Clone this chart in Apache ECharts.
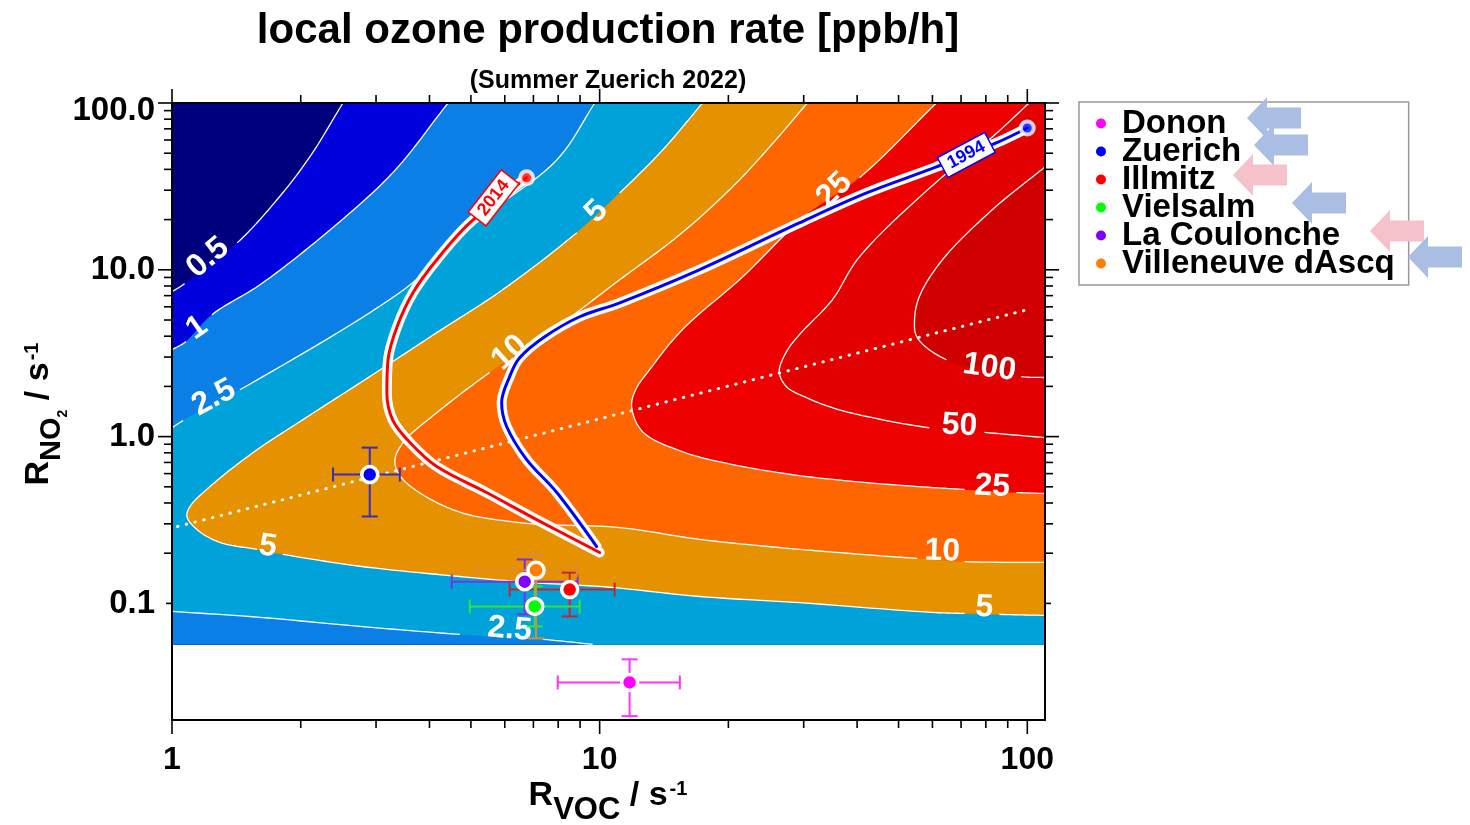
<!DOCTYPE html>
<html>
<head>
<meta charset="utf-8">
<title>local ozone production rate</title>
<script src="https://cdn.jsdelivr.net/npm/echarts@6.0.0/dist/echarts.min.js"></script>
<style>
html, body { margin: 0; padding: 0; background: #ffffff; }
#chart { width: 1470px; height: 825px; }
</style>
</head>
<body>
<div id="chart"></div>
<script>
// ================= DATA =================
// axis ticks
const xTickValues = [1, 10, 100];
const xTickLabels = ['1', '10', '100'];
const xMinorValues = [2, 3, 4, 5, 6, 7, 8, 9, 20, 30, 40, 50, 60, 70, 80, 90];
const yTickValues = [0.1, 1, 10, 100];
const yTickLabels = ['0.1', '1.0', '10.0', '100.0'];
const yMinorValues = [0.2, 0.3, 0.4, 0.5, 0.6, 0.7, 0.8, 0.9, 2, 3, 4, 5, 6, 7, 8, 9, 20, 30, 40, 50, 60, 70, 80, 90];

// contour levels of the local ozone production rate [ppb/h]
const levelValues = [0.5, 1, 2.5, 5, 10, 25, 50, 100];
// contour lines as [R_VOC, R_NO2]; null marks the gap left for the inline label
const contour05 = [[1, 7.39], [1.07, 8.25], null, [1.42, 14.5], [1.76, 26.3], [2.10, 47.5], [2.51, 100]];
const contour1 = [[1, 3.32], [1.078, 3.71], null, [1.240, 5.38], [1.605, 8.13], [2.30, 16.7], [3.28, 38.1], [4.42, 100]];
const contour25Upper = [[1, 1.13], [1.061, 1.247], null, [1.442, 1.91], [2.90, 5.53], [3.80, 9.08], [4.97, 18.1], [7.94, 45.6], [9.74, 100]];
const contour25Lower = [[1, 0.0896], [1.605, 0.0825], [2.75, 0.0728], [4.71, 0.0652], null, [7.36, 0.0609], [9.63, 0.0568]];
const contour5 = [[17.4, 100], [14.04, 52.3], [11.14, 28.9], null, [8.84, 16.7], [5.93, 7.59], [4.16, 4.20], [2.90, 2.29],
  [2.02, 1.26], [1.547, 0.802], [1.227, 0.502], [1.102, 0.381], [1.084, 0.332], [1.144, 0.277], [1.295, 0.232], [1.580, 0.211], null,
  [1.817, 0.197], [2.75, 0.167], [4.71, 0.145], [6.75, 0.134], [10.55, 0.125], [17.13, 0.110], [29.34, 0.101], [60.0, 0.0883],
  [71.3, 0.0871], null, [86.0, 0.0859], [110, 0.0848]];
const contour10 = [[30.6, 100], [25.2, 56.0], [20.67, 32.3], [15.38, 16.2], [11.14, 8.71], [7.24, 3.81], null, [5.53, 2.42],
  [4.16, 1.39], [3.47, 0.921], [3.32, 0.708], [3.47, 0.553], [4.53, 0.365], [6.50, 0.305], [11.14, 0.285], [17.13, 0.242],
  [29.34, 0.211], [55.3, 0.186], null, [71.3, 0.178], [110, 0.176]];
const contour25 = [[61.3, 100], [40.5, 35.6], null, [30.1, 20.8], [21.6, 9.08], [15.6, 4.37], [13.09, 2.52], [12.14, 1.91],
  [11.88, 1.51], [12.6, 1.07], [15.6, 0.813], [20.45, 0.680], [29.3, 0.584], [42.1, 0.530], [60.0, 0.495], [71.3, 0.482], null,
  [94.3, 0.462], [110, 0.456]];
const contour50 = [[101, 100], [82.8, 62.6], [63.3, 36.1], [40.5, 11.96], [35.0, 6.61], [29.3, 4.08], [27.35, 3.23], [26.3, 2.45],
  [27.35, 1.99], [30.5, 1.71], [35.0, 1.49], [42.1, 1.32], [59.0, 1.13], null, [79.4, 1.06], [110, 0.986]];
const contour100 = [[110, 41.4], [82.8, 22.9], [63.3, 11.48], [55.9, 6.89], [54.5, 5.02], [55.3, 3.92], [64.7, 2.89], null,
  [96.8, 2.29], [110, 2.26]];
const modelLowerLimit = 0.0568; // lowest R_NO2 of the model grid

// inline contour labels
const contourLabelText = ['0.5', '1', '2.5', '5', '10', '25', '5', '2.5', '100', '50', '25', '10', '5'];
const contourLabelAt = [[1.214, 11.8], [1.144, 4.49], [1.253, 1.71], [9.84, 22.3], [6.16, 3.18], [35.4, 30.1],
  [1.676, 0.2195], [6.16, 0.0699], [81.5, 2.59], [69.4, 1.164], [82.8, 0.502], [63.3, 0.205], [79.4, 0.0947]];

// ridge line (transition NOx / VOC limited)
const ridgeLine = [[1.03, 0.289], [100, 5.76]];

// Zuerich trajectories
const trajectoryNames = ['2014', '1994'];
const path2014 = [[6.75, 35.6], [4.97, 19.1], [4.16, 11.48], [3.66, 7.28], [3.36, 4.56], [3.20, 2.89], [3.18, 1.83],
  [3.28, 1.26], [3.60, 0.921], [4.16, 0.661], [5.44, 0.462], [7.12, 0.318], [10.0, 0.202]];
const path1994 = [[100, 70.8], [84.6, 57.6], [61.3, 41.4], [42.1, 28.9], [29.3, 19.1], [17.1, 10.0], [11.14, 6.34],
  [8.98, 5.23], [7.44, 3.97], [6.50, 2.97], [6.16, 2.29], [5.90, 1.60], [6.06, 1.15], [6.75, 0.728], [7.94, 0.462], [9.84, 0.219]];
const trajectoryLabelAt = [[5.65, 27.0], [72.0, 48.8]];

// measurement sites
const siteNames = ['Donon', 'Zuerich', 'Illmitz', 'Vielsalm', 'La Coulonche', 'Villeneuve dAscq'];
const siteVOC = [11.75, 2.90, 8.51, 7.05, 6.68, 7.10];
const siteNO2 = [0.0336, 0.592, 0.121, 0.0959, 0.135, 0.158];
const vocLow = [7.98, 2.38, 6.16, 4.97, 4.51, 5.16];
const vocHigh = [15.4, 3.41, 10.84, 8.98, 8.88, 8.84];
const no2Low = [0.0211, 0.332, 0.0836, 0.0728, 0.0859, 0.0617];
const no2High = [0.0462, 0.859, 0.153, 0.1264, 0.1834, 0.195];

// ================= STYLE =================
const FONT = '"Liberation Sans", Arial, Helvetica, sans-serif';
const X_MIN = 1, X_MAX = 110, Y_MIN = 0.02, Y_MAX = 100;
const fillColors = ['#00007f', '#0000dc', '#0a80e6', '#00a3d9', '#e69100', '#ff6600', '#ef0000', '#e30000', '#d00000'];
const siteColors = ['#ff00ff', '#0000ff', '#ff0000', '#00ff00', '#8000ff', '#ff8000'];
const errorColors = ['#ff33ff', '#3a2db8', '#c0282d', '#2ee82e', '#7f30e0', '#e08a30'];
const trajColors = ['#ff0000', '#0000ff'];
const contourLabelAngle = [40, 35, 28, 45, 42, 45, -8, -5, -8, -3, -3, -2, -3];
const trajectoryLabelAngle = [52, 28];
const siteDrawOrder = [0, 1, 2, 4, 5, 3];

const corners = {
  TL: [X_MIN, Y_MAX], TR: [X_MAX, Y_MAX],
  BR: [X_MAX, modelLowerLimit], BL: [X_MIN, modelLowerLimit]
};
// regions where P >= level (painted from lowest to highest)
const regionDefs = [
  ['TL', 'TR', 'BR', 'BL'],
  [contour05, 'TR', 'BR', 'BL'],
  [contour1, 'TR', 'BR', 'BL'],
  [contour25Upper, 'TR', 'BR', contour25Lower.slice().reverse()],
  [contour5, 'TR'],
  [contour10, 'TR'],
  [contour25, 'TR'],
  [contour50, 'TR'],
  [contour100]
];
const contourLines = [contour05, contour1, contour25Upper, contour25Lower, contour5, contour10, contour25, contour50, contour100];

// centripetal Catmull-Rom through pixel points (drawing only)
function crPoint(p0, p1, p2, p3, t) {
  const d = (a, b) => Math.max(Math.pow(Math.hypot(b[0] - a[0], b[1] - a[1]), 0.5), 1e-4);
  const t0 = 0, t1 = t0 + d(p0, p1), t2 = t1 + d(p1, p2), t3 = t2 + d(p2, p3);
  const tt = t1 + (t2 - t1) * t;
  const lerp = (a, b, ta, tb) => [0, 1].map(j => ((tb - tt) * a[j] + (tt - ta) * b[j]) / (tb - ta));
  const A1 = lerp(p0, p1, t0, t1), A2 = lerp(p1, p2, t1, t2), A3 = lerp(p2, p3, t2, t3);
  const B1 = lerp(A1, A2, t0, t2), B2 = lerp(A2, A3, t1, t3);
  return lerp(B1, B2, t1, t2);
}
function spline(px, gap, n) {
  const lines = [];
  let cur = [px[0]];
  for (let i = 0; i < px.length - 1; i++) {
    const p1 = px[i], p2 = px[i + 1];
    const p0 = px[i - 1] || [2 * p1[0] - p2[0], 2 * p1[1] - p2[1]];
    const p3 = px[i + 2] || [2 * p2[0] - p1[0], 2 * p2[1] - p1[1]];
    if (gap && gap[i]) { lines.push(cur); cur = [p2]; continue; }
    for (let k = 1; k <= n; k++) cur.push(crPoint(p0, p1, p2, p3, k / n));
  }
  lines.push(cur);
  return lines;
}
function splitGaps(arr) {
  const pts = [], gap = [];
  arr.forEach(p => {
    if (p === null) { if (gap.length) gap[gap.length - 1] = true; }
    else { pts.push(p); gap.push(false); }
  });
  return { pts, gap };
}
function tickLabel(values, labels, topValue) {
  return v => {
    const i = values.findIndex(t => Math.abs(Math.log10(t) - Math.log10(v)) < 1e-6);
    if (i < 0) return '';
    return (topValue !== undefined && values[i] === topValue) ? '{top|' + labels[i] + '}' : labels[i];
  };
}
const dummy = (arr) => arr.map(() => [1, 1]);

const chart = echarts.init(document.getElementById('chart'), null, { renderer: 'canvas' });

const series = [];
// filled contour regions
series.push({
  type: 'custom', name: 'fill', z: 1, clip: true, silent: true,
  data: dummy(regionDefs),
  renderItem: (params, api) => {
    let poly = [];
    regionDefs[params.dataIndex].forEach(part => {
      if (typeof part === 'string') poly.push(api.coord(corners[part]));
      else poly = poly.concat(spline(part.filter(p => p !== null).map(p => api.coord(p)), null, 12)[0]);
    });
    return { type: 'polygon', shape: { points: poly }, style: { fill: fillColors[params.dataIndex], stroke: fillColors[params.dataIndex], lineWidth: 0.5 } };
  }
});
// contour lines
series.push({
  type: 'custom', name: 'contours', z: 2, clip: true, silent: true,
  data: dummy(contourLines),
  renderItem: (params, api) => {
    const s = splitGaps(contourLines[params.dataIndex]);
    const lines = spline(s.pts.map(p => api.coord(p)), s.gap, 12);
    return { type: 'group', children: lines.map(l => ({ type: 'polyline', shape: { points: l }, style: { stroke: '#ffffff', lineWidth: 1.3, fill: 'none' } })) };
  }
});
// contour labels
series.push({
  type: 'custom', name: 'contourLabels', z: 3, clip: false, silent: true,
  data: dummy(contourLabelText),
  renderItem: (params, api) => {
    const i = params.dataIndex;
    const c = api.coord(contourLabelAt[i]);
    return { type: 'text', x: c[0], y: c[1], rotation: contourLabelAngle[i] * Math.PI / 180,
      style: { text: contourLabelText[i], fill: '#ffffff', font: 'bold 32px ' + FONT, align: 'center', verticalAlign: 'middle' } };
  }
});
// ridge line
series.push({
  type: 'line', name: 'ridge', z: 4, silent: true, data: ridgeLine, symbol: 'none',
  lineStyle: { color: '#ffffff', width: 3, type: [0.5, 8.5], cap: 'round' }
});
// trajectories
[path2014, path1994].forEach((path, k) => {
  series.push({ type: 'line', name: 'traj-bg' + k, z: 5, silent: true, data: path, symbol: 'none', smooth: 0.35,
    lineStyle: { color: '#ffffff', width: 10, cap: 'round', join: 'round' } });
  series.push({ type: 'line', name: 'traj' + k, z: 6, silent: true, data: path, symbol: 'none', smooth: 0.35,
    lineStyle: { color: trajColors[k], width: 3, cap: 'round', join: 'round' } });
  series.push({ type: 'scatter', name: 'traj-end' + k, z: 7, silent: true, data: [path[0]], symbol: 'circle', symbolSize: 13,
    itemStyle: { color: trajColors[k], borderColor: '#ffffff', borderWidth: 4 } });
});
// trajectory labels
series.push({
  type: 'custom', name: 'trajLabels', z: 8, clip: false, silent: true,
  data: dummy(trajectoryNames),
  renderItem: (params, api) => {
    const i = params.dataIndex;
    const c = api.coord(trajectoryLabelAt[i]);
    return { type: 'text', x: c[0], y: c[1], rotation: trajectoryLabelAngle[i] * Math.PI / 180,
      style: { text: trajectoryNames[i], fill: trajColors[i], font: 'bold 18px ' + FONT, align: 'center', verticalAlign: 'middle',
        backgroundColor: '#ffffff', borderColor: trajColors[i], borderWidth: 1.5, padding: [2, 6, 1, 6] } };
  }
});
// error bars
series.push({
  type: 'custom', name: 'errors', z: 9, clip: false, silent: true,
  data: dummy(siteNames),
  renderItem: (params, api) => {
    const i = params.dataIndex;
    const c = api.coord([siteVOC[i], siteNO2[i]]);
    const xl = api.coord([vocLow[i], siteNO2[i]])[0], xh = api.coord([vocHigh[i], siteNO2[i]])[0];
    const yl = api.coord([siteVOC[i], no2Low[i]])[1], yh = api.coord([siteVOC[i], no2High[i]])[1];
    const st = { stroke: errorColors[i], lineWidth: 2 };
    const L = (x1, y1, x2, y2) => ({ type: 'line', shape: { x1, y1, x2, y2 }, style: st });
    return { type: 'group', children: [
      L(xl, c[1], xh, c[1]), L(c[0], yl, c[0], yh),
      L(xl, c[1] - 7, xl, c[1] + 7), L(xh, c[1] - 7, xh, c[1] + 7),
      L(c[0] - 8, yl, c[0] + 8, yl), L(c[0] - 8, yh, c[0] + 8, yh)
    ] };
  }
});
// site markers
siteDrawOrder.forEach((i) => {
  series.push({ type: 'scatter', name: siteNames[i], z: 10, data: [[siteVOC[i], siteNO2[i]]], symbol: 'circle', symbolSize: 16,
    itemStyle: { color: siteColors[i], borderColor: '#ffffff', borderWidth: 3.5, opacity: 1 }, emphasis: { disabled: true } });
});
// axis ticks (outward on all four sides)
series.push({
  type: 'custom', name: 'ticks', z: 30, clip: false, silent: true,
  data: [[1, 1]],
  renderItem: (params, api) => {
    const ch = [];
    const yb = api.coord([X_MIN, Y_MIN])[1], yt = api.coord([X_MIN, Y_MAX])[1];
    const xl = api.coord([X_MIN, Y_MIN])[0], xr = api.coord([X_MAX, Y_MIN])[0];
    const add = (x1, y1, x2, y2) => ch.push({ type: 'line', shape: { x1, y1, x2, y2 }, style: { stroke: '#000000', lineWidth: 1.6 } });
    xTickValues.forEach(v => { const x = api.coord([v, Y_MIN])[0]; add(x, yb, x, yb + 14); add(x, yt, x, yt - 14); });
    xMinorValues.forEach(v => { const x = api.coord([v, Y_MIN])[0]; add(x, yb, x, yb + 8); add(x, yt, x, yt - 8); });
    yTickValues.forEach(v => { const y = api.coord([X_MIN, v])[1]; const len = v < 0.5 ? 6 : 14; add(xl, y, xl - len, y); add(xr, y, xr + len, y); });
    yMinorValues.forEach(v => { const y = api.coord([X_MIN, v])[1]; add(xl, y, xl - 8, y); add(xr, y, xr + 8, y); });
    return { type: 'group', children: ch };
  }
});

const axisLine = { show: true, onZero: false, lineStyle: { color: '#000000', width: 2 } };
const xLabelFont = { fontSize: 32, fontWeight: 'bold', color: '#000000', fontFamily: FONT };
const yLabelFont = { fontSize: 33, fontWeight: 'bold', color: '#000000', fontFamily: FONT };
const arrowTips = [[1247, 118], [1254, 145], [1233, 175], [1292, 203], [1370, 231], [1408, 257]];
const arrowColors = ['#aabde3', '#aabde3', '#f5c1ca', '#aabde3', '#f5c1ca', '#aabde3'];

const option = {
  animation: false,
  backgroundColor: '#ffffff',
  grid: { left: 172, right: 425, top: 103, bottom: 105, containLabel: false, outerBoundsMode: 'none', show: false },
  xAxis: [
    { type: 'log', logBase: 10, min: X_MIN, max: X_MAX, position: 'bottom', z: 20, axisLine,
      axisTick: { show: false }, minorTick: { show: false }, splitLine: { show: false }, minorSplitLine: { show: false },
      axisLabel: Object.assign({ formatter: tickLabel(xTickValues, xTickLabels), margin: 24 }, xLabelFont) },
    { type: 'log', logBase: 10, min: X_MIN, max: X_MAX, position: 'top', z: 20, axisLine,
      axisTick: { show: false }, splitLine: { show: false }, axisLabel: { show: false } }
  ],
  yAxis: [
    { type: 'log', logBase: 10, min: Y_MIN, max: Y_MAX, position: 'left', z: 20, axisLine,
      axisTick: { show: false }, minorTick: { show: false }, splitLine: { show: false }, minorSplitLine: { show: false },
      axisLabel: Object.assign({ formatter: tickLabel(yTickValues, yTickLabels, 100), margin: 17,
        rich: { top: Object.assign({ padding: [16, 0, 0, 0] }, yLabelFont) } }, yLabelFont) },
    { type: 'log', logBase: 10, min: Y_MIN, max: Y_MAX, position: 'right', z: 20, axisLine,
      axisTick: { show: false }, splitLine: { show: false }, axisLabel: { show: false } }
  ],
  legend: {
    data: siteNames, orient: 'vertical', left: 1079, top: 102, itemWidth: 32, itemHeight: 10, itemGap: -5,
    icon: 'circle', selectedMode: false, borderColor: '#999999', borderWidth: 1.5, padding: [5, 14, 5, 17],
    itemStyle: { borderWidth: 0 },
    textStyle: { fontSize: 33, fontWeight: 'bold', color: '#000000', fontFamily: FONT }
  },
  graphic: [
    { type: 'text', x: 608, y: 31, style: { text: 'local ozone production rate [ppb/h]', font: 'bold 42px ' + FONT, fill: '#000', align: 'center', verticalAlign: 'middle' } },
    { type: 'text', x: 608, y: 81, style: { text: '(Summer Zuerich 2022)', font: 'bold 25px ' + FONT, fill: '#000', align: 'center', verticalAlign: 'middle' } },
    { type: 'text', x: 608, y: 797, style: {
        text: '{r|R}{s|VOC}{r| / s}{p|-1}', align: 'center', verticalAlign: 'middle', fill: '#000',
        rich: {
          r: { fontSize: 34, fontWeight: 'bold', fontFamily: FONT, lineHeight: 36, verticalAlign: 'top' },
          s: { fontSize: 31, fontWeight: 'bold', fontFamily: FONT, lineHeight: 31, padding: [16, 0, 0, 0], verticalAlign: 'top' },
          p: { fontSize: 20, fontWeight: 'bold', fontFamily: FONT, lineHeight: 20, verticalAlign: 'top', padding: [0, 0, 0, 2] }
        } } },
    { type: 'text', x: 40, y: 414, rotation: Math.PI / 2, style: {
        text: '{r|R}{s|NO}{t|2}{r| / s}{p|-1}', align: 'center', verticalAlign: 'middle', fill: '#000',
        rich: {
          r: { fontSize: 34, fontWeight: 'bold', fontFamily: FONT, lineHeight: 36, verticalAlign: 'top' },
          s: { fontSize: 29, fontWeight: 'bold', fontFamily: FONT, lineHeight: 29, padding: [15, 0, 0, 0], verticalAlign: 'top' },
          t: { fontSize: 14, fontWeight: 'bold', fontFamily: FONT, lineHeight: 14, padding: [34, 0, 0, 0], verticalAlign: 'top' },
          p: { fontSize: 20, fontWeight: 'bold', fontFamily: FONT, lineHeight: 20, verticalAlign: 'top', padding: [0, 0, 0, 2] }
        } } }
  ].concat(arrowTips.map((t, i) => ({
    type: 'polygon', x: t[0], y: t[1], z: 100, silent: true,
    shape: { points: [[0, 0], [20, -21], [20, -10.5], [54, -10.5], [54, 10.5], [20, 10.5], [20, 21]] },
    style: { fill: arrowColors[i] }
  }))),
  series
};
chart.setOption(option);
</script>
</body>
</html>
